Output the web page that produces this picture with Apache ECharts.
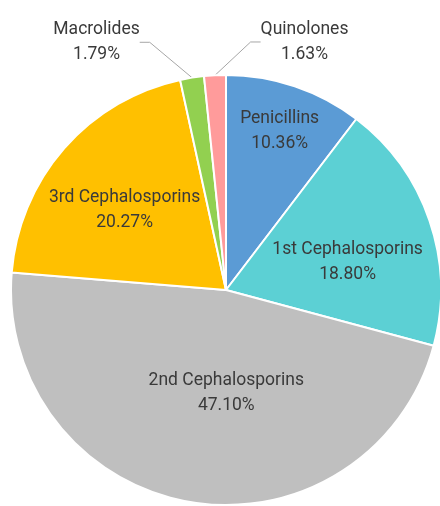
<!DOCTYPE html>
<html>
<head>
<meta charset="utf-8">
<script src="https://cdn.jsdelivr.net/npm/echarts@6/dist/echarts.min.js"></script>
<style>
  html, body { margin: 0; padding: 0; background: #fff; }
  #chart { width: 440px; height: 506px; }
</style>
</head>
<body>
<div id="chart"></div>
<script>
// antibiotic class share (%)
const classes = ['Penicillins', '1st Cephalosporins', '2nd Cephalosporins', '3rd Cephalosporins', 'Macrolides', 'Quinolones'];
const shares = [10.36, 18.80, 47.10, 20.27, 1.79, 1.63];
const colors = ['#5B9BD5', '#5CD0D4', '#BFBFBF', '#FFC000', '#92D050', '#FF9B9B'];
const outsideLabels = ['Macrolides', 'Quinolones'];

// pie geometry
const CX = 226, CY = 290, R = 215;
// label placement: [radius fraction, angle nudge in deg] from the slice middle
const labelPlace = [[0.78, 0], [0.58, 6], [0.48, -10], [0.60, -3], [1.30, -18.5], [1.21, 20.5]];

const total = shares.reduce((a, b) => a + b, 0);
const FONT = 'Roboto, sans-serif';

const chart = echarts.init(document.getElementById('chart'));

chart.setOption({
    animation: false,
    textStyle: { fontFamily: FONT },
    series: [{
        type: 'pie',
        center: [CX, CY],
        radius: R,
        startAngle: 90,
        clockwise: true,
        avoidLabelOverlap: false,
        itemStyle: { borderColor: '#fff', borderWidth: 2 },
        label: {
            show: true,
            position: 'inside',
            color: '#3a3a3a',
            fontSize: 17.5,
            lineHeight: 25,
            fontFamily: FONT,
            formatter: p => p.name + '\n' + p.value.toFixed(2) + '%'
        },
        labelLine: { show: false },
        emphasis: { disabled: true },
        labelLayout: function (p) {
            const i = p.dataIndex;
            let before = 0;
            for (let k = 0; k < i; k++) before += shares[k];
            const mid = (before + shares[i] / 2) / total * 360 + labelPlace[i][1];
            const a = mid * Math.PI / 180;
            const r = R * labelPlace[i][0];
            return {
                x: CX + r * Math.sin(a),
                y: CY - r * Math.cos(a),
                align: 'center',
                verticalAlign: 'middle'
            };
        },
        data: classes.map((name, i) => {
            const item = { name: name, value: shares[i], itemStyle: { color: colors[i] } };
            if (outsideLabels.includes(name)) {
                item.label = { position: 'outside' };
                item.labelLine = {
                    show: true,
                    length: 15,
                    length2: 10,
                    lineStyle: { color: '#a6a6a6', width: 1 }
                };
            }
            return item;
        })
    }]
});
</script>
</body>
</html>
